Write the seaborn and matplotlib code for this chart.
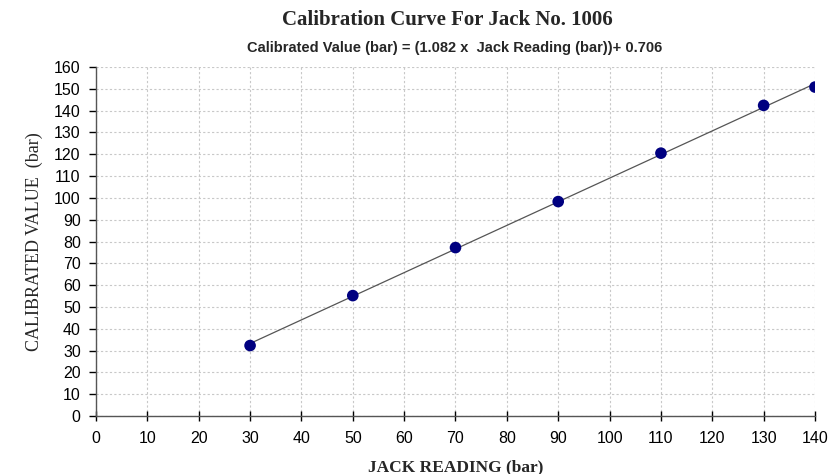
import matplotlib
matplotlib.use("Agg")
import matplotlib.pyplot as plt
import seaborn as sns
import numpy as np
import pandas as pd

jack_reading = [30, 50, 70, 90, 110, 130, 140]
calibrated_value = [32.3, 55.2, 77.2, 98.3, 120.5, 142.4, 150.8]
x_ticks = list(range(0, 141, 10))
y_ticks = list(range(0, 161, 10))

df = pd.DataFrame({"x": jack_reading, "y": calibrated_value})

sns.set_theme(style="white")
plt.rcParams['font.family'] = ['Liberation Sans', 'DejaVu Sans']

fig = plt.figure(figsize=(8.34, 4.74), dpi=100)
ax = fig.add_axes([96/834, 1 - 416/474, (815-96)/834, (416-67)/474])

sns.regplot(data=df, x="x", y="y", ax=ax, ci=None, truncate=True,
            scatter_kws=dict(color="#000080", s=70, zorder=3, edgecolor="none", alpha=1),
            line_kws=dict(color="#555555", lw=0.9, zorder=2))

ax.set_xlim(0, 140)
ax.set_ylim(0, 160)
ax.set_xticks(x_ticks)
ax.set_yticks(y_ticks)
ax.grid(True, color="#c8c8c8", linestyle=(0, (2, 2)), linewidth=0.8)
ax.set_axisbelow(True)
for s in ["top", "right"]:
    ax.spines[s].set_visible(False)
for s in ["left", "bottom"]:
    ax.spines[s].set_color("#555555")
    ax.spines[s].set_linewidth(1.0)
ax.tick_params(axis="both", which="major", labelsize=11.5, colors="black",
               length=5, width=1, direction="out", bottom=True, left=True, pad=6)
ax.tick_params(axis="x", direction="inout", length=7, pad=7)

ax.set_xlabel("JACK READING (bar)", fontsize=12.5, fontweight="bold",
              family=["Liberation Serif"], labelpad=10)
ax.set_ylabel("CALIBRATED VALUE  (bar)", fontsize=13,
              family=["Liberation Serif"], labelpad=8)

fig.text(0.537, 0.957, "Calibration Curve For Jack No. 1006", ha="center", va="center",
         fontsize=15, fontweight="bold", family=["Liberation Serif"])
fig.text(0.545, 0.898, "Calibrated Value (bar) = (1.082 x  Jack Reading (bar))+ 0.706",
         ha="center", va="center", fontsize=10.5, fontweight="bold")

fig.savefig("out.png", dpi=100)
